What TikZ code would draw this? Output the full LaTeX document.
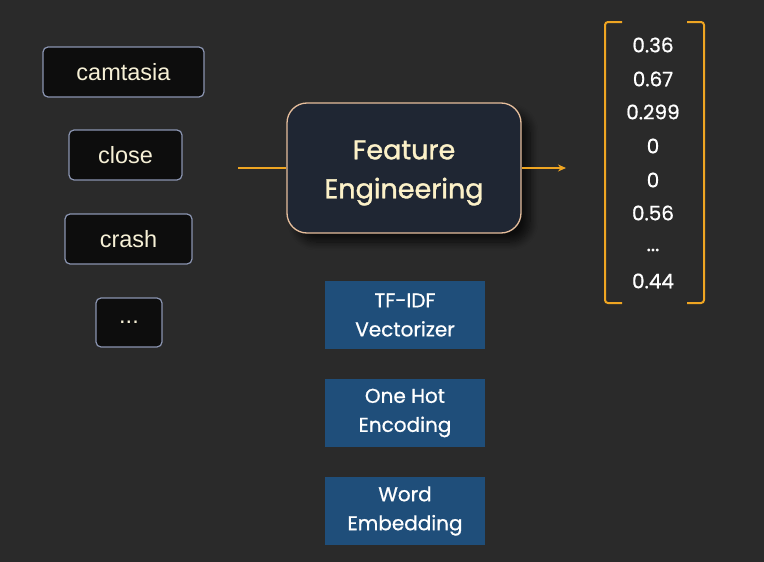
\documentclass[tikz,border=0pt]{standalone}
\usepackage{fontspec}
\setmainfont{Liberation Sans}
\newfontfamily\geo[FakeBold=1.3]{Poppins}
\newfontfamily\geol[FakeBold=0.8]{Poppins}
\usetikzlibrary{arrows.meta,shadows.blur}
\definecolor{bg}{HTML}{2A2A2A}
\definecolor{wordfill}{HTML}{0D0D0D}
\definecolor{wordline}{HTML}{8A94B0}
\definecolor{cream}{HTML}{F6F0D6}
\definecolor{fefill}{HTML}{1F2633}
\definecolor{feline}{HTML}{E6BE9C}
\definecolor{fetext}{HTML}{FCF1C8}
\definecolor{orange}{HTML}{EFA522}
\definecolor{methfill}{HTML}{1F4E7A}
\tikzset{
  wordbox/.style={draw=wordline, line width=1.2pt, fill=wordfill, rounded corners=5pt,
    text=cream, font=\fontsize{23.5}{26}\selectfont, inner sep=0pt},
  febox/.style={draw=feline, line width=1.3pt, fill=fefill, rounded corners=20pt,
    inner sep=0pt,
    blur shadow={shadow xshift=9pt, shadow yshift=-9pt, shadow blur steps=10, shadow blur radius=8pt, shadow opacity=70}},
  fetxt/.style={text=fetext, font=\geo\fontsize{27}{39}\selectfont, align=center, inner sep=0pt},
  methbox/.style={fill=methfill, text=white, font=\geol\fontsize{20}{29}\selectfont,
    align=center, inner sep=0pt},
  vecnum/.style={text=white, font=\geol\fontsize{20}{22}\selectfont, inner sep=0pt},
  flow/.style={draw=orange, line width=1.5pt},
  brk/.style={draw=orange, line width=2pt, rounded corners=3pt}
}
\begin{document}
\begin{tikzpicture}[x=1pt,y=-1pt]
\fill[bg] (0,0) rectangle (764,562);
\useasboundingbox (0,0) rectangle (764,562);
% word boxes
\node[wordbox, minimum width=161pt, minimum height=50pt] (w1) at (123.5,72) {camtasia};
\node[wordbox, minimum width=113pt, minimum height=50pt] (w2) at (125.5,155) {close};
\node[wordbox, minimum width=127pt, minimum height=50pt] (w3) at (128.5,239) {crash};
\node[wordbox, minimum width=66pt, minimum height=49pt] (w4) at (129,322.5) {...};
% feature engineering
\coordinate (in) at (238,168);
\node[febox, minimum width=234pt, minimum height=130pt] (fe) at (404,168) {};
\node[fetxt] (fel) at (404,173) {Feature\\Engineering};
\coordinate (out) at (566,168);
\draw[flow] (in) -- (fe.west |- in);
\draw[flow, -{Stealth[length=8pt,width=7pt]}] (fe.east |- out) -- (out);
% methods
\node[methbox, minimum width=160pt, minimum height=68pt] (m1) at (405,315) {TF-IDF\\Vectorizer};
\node[methbox, minimum width=160pt, minimum height=68pt] (m2) at (405,413) {One Hot\\Encoding};
\node[methbox, minimum width=160pt, minimum height=68pt] (m3) at (405,511) {Word\\Embedding};
% vector
\coordinate (bl1) at (622,22);
\coordinate (bl2) at (605,22);
\coordinate (bl3) at (605,303);
\coordinate (bl4) at (622,303);
\coordinate (br1) at (687,22);
\coordinate (br2) at (704,22);
\coordinate (br3) at (704,303);
\coordinate (br4) at (687,303);
\draw[brk] (bl1) -- (bl2) -- (bl3) -- (bl4);
\draw[brk] (br1) -- (br2) -- (br3) -- (br4);
\node[vecnum] (v1) at (653,45) {0.36};
\node[vecnum] (v2) at (653,79) {0.67};
\node[vecnum] (v3) at (653,112) {0.299};
\node[vecnum] (v4) at (653,146) {0};
\node[vecnum] (v5) at (653,180) {0};
\node[vecnum] (v6) at (653,213) {0.56};
\node[vecnum] (v7) at (653,250) {...};
\node[vecnum] (v8) at (653,281) {0.44};
\end{tikzpicture}
\end{document}
